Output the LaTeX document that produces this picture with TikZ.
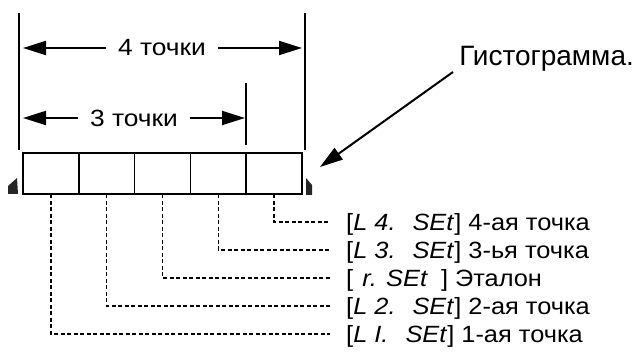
\documentclass[tikz,border=0pt]{standalone}
\usepackage{fontspec}
\setmainfont{Liberation Sans}
\newfontfamily\dimfont[FakeStretch=1.12]{Liberation Sans}
\newfontfamily\lblfont[FakeStretch=1.08]{Liberation Sans}
\usetikzlibrary{arrows.meta,calc}
\begin{document}
\begin{tikzpicture}[x=1pt,y=-1pt,
  cell/.style={draw,line width=1.6pt,minimum width=55.8pt,minimum height=41pt,inner sep=0,outer sep=0},
  dimline/.style={line width=2pt},
  dimarrow/.style={line width=2pt,-{Triangle[length=23pt,width=14pt]}},
  dimtext/.style={font=\dimfont\fontsize{23.5}{26}\selectfont,inner xsep=12pt,inner ysep=0},
  lbl/.style={font=\lblfont\fontsize{23.5}{26}\selectfont,anchor=west,inner sep=0,text height=16.5pt,text depth=0pt},
  leader/.style={line width=1.3pt,dash pattern=on 4pt off 2.5pt},
  marker/.style={fill=black!85}
]
\useasboundingbox (0,0) rectangle (638,352);

% histogram cells
\foreach \i/\x in {1/50.9,2/106.7,3/162.5,4/218.3,5/274.1}
  \node[cell] (c\i) at (\x,173.7) {};

% dimension lines
\coordinate (vLt) at (19,13);  \coordinate (vLb) at (19,150);
\coordinate (vRt) at (305,13); \coordinate (vRb) at (305,150);
\coordinate (vMt) at (246,83); \coordinate (vMb) at (246,145);
\draw[dimline] (vLt) -- (vLb);
\draw[dimline] (vRt) -- (vRb);
\draw[dimline] (vMt) -- (vMb);

\node[dimtext] (t4) at (162,48) {4 точки};
\node[dimtext] (t3) at (134,118) {3 точки};
\coordinate (a4l) at (23,48);  \coordinate (a4r) at (302,48);
\coordinate (a3l) at (23,118); \coordinate (a3r) at (245,118);
\draw[dimarrow] (t4.west) -- (a4l);
\draw[dimarrow] (t4.east) -- (a4r);
\draw[dimarrow] (t3.west) -- (a3l);
\draw[dimarrow] (t3.east) -- (a3r);

% title and pointer
\node[font=\fontsize{28}{32}\selectfont,anchor=base east,inner sep=0] (hist) at (634,66) {Гистограмма.};
\coordinate (from) at (453,72);
\coordinate (tip) at (320,167);
\draw[dimarrow] (from) -- (tip);

% end markers
\fill[marker] (8,186) -- (17,178) -- (18,194) -- (8,194) -- cycle;
\fill[marker] (306,178) -- (312,185) -- (312,195) -- (306,195) -- cycle;

% labels
\node[lbl] (l4) at (346,222) {[\textit{L 4.}\hspace{17pt}\textit{SEt}] 4-ая точка};
\node[lbl] (l3) at (346,250) {[\textit{L 3.}\hspace{17pt}\textit{SEt}] 3-ья точка};
\node[lbl] (lr) at (346,278) {[\hspace{9pt}\textit{r. SEt}\hspace{13pt}] Эталон};
\node[lbl] (l2) at (346,306) {[\textit{L 2.}\hspace{17pt}\textit{SEt}] 2-ая точка};
\node[lbl] (l1) at (346,334) {[\textit{L I.}\hspace{17pt}\textit{SEt}] 1-ая точка};

% leaders
\draw[leader] (c5.south) |- ([xshift=-18pt]l4.west);
\draw[leader] (c4.south) |- ([xshift=-16pt]l3.west);
\draw[leader] (c3.south) |- ([xshift=-16pt]lr.west);
\draw[leader] (c2.south) |- ([xshift=-16pt]l2.west);
\draw[leader] (c1.south) |- ([xshift=-16pt]l1.west);
\end{tikzpicture}
\end{document}
